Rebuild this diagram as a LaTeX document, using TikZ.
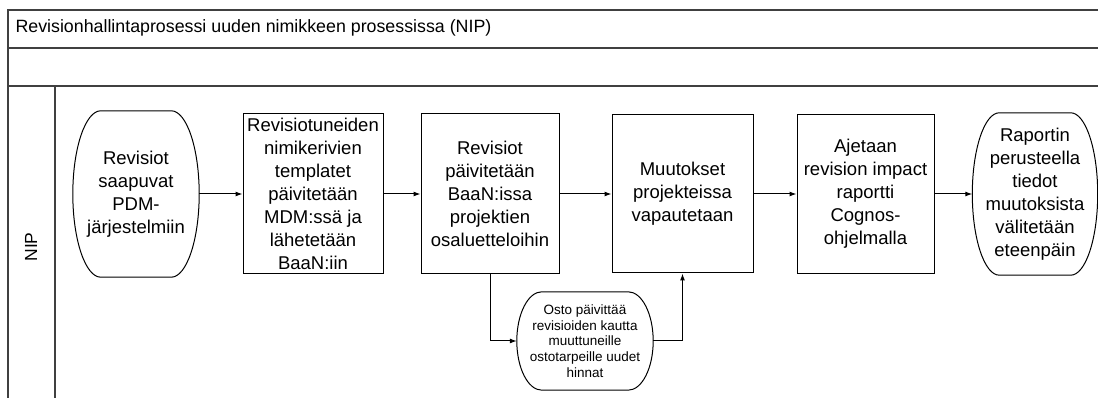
\documentclass[tikz,border=0pt]{standalone}
\usepackage{fontspec}
\setmainfont{Liberation Sans}
\usetikzlibrary{arrows.meta,calc}

% Outline of a terminator: flat top and bottom joined by quarter-ellipse
% corners, so the sides bulge out like a barrel (#2 = width of a corner)
\newcommand\termoutline[2]{%
  \draw[shapeline] let \p1=(#1.north east), \p2=(#1.south west), \p3=(#1.center) in
   ({\x2+#2},\y1) -- ({\x1-#2},\y1)
   .. controls ({\x1-0.45*#2},\y1) and (\x1,{\y3+0.55*(\y1-\y3)}) .. (\x1,\y3)
   .. controls (\x1,{\y3-0.55*(\y1-\y3)}) and ({\x1-0.45*#2},\y2) .. ({\x1-#2},\y2)
   -- ({\x2+#2},\y2)
   .. controls ({\x2+0.45*#2},\y2) and (\x2,{\y3-0.55*(\y1-\y3)}) .. (\x2,\y3)
   .. controls (\x2,{\y3+0.55*(\y1-\y3)}) and ({\x2+0.45*#2},\y1) .. cycle;}

\tikzset{
  frameline/.style={line width=1.3pt, draw=black!75},
  shapeline/.style={line width=1pt, draw=black},
  proc/.style={shapeline, rectangle, inner sep=0pt, align=center,
    font=\fontsize{18.5}{23}\selectfont},
  term/.style={rectangle, inner sep=0pt, align=center,
    font=\fontsize{18.5}{23}\selectfont},
  smallterm/.style={rectangle, inner sep=0pt, align=center,
    font=\fontsize{13.5}{15.7}\selectfont},
  flow/.style={line width=1pt, -{Latex[length=7pt,width=5pt]}},
}

\begin{document}
\begin{tikzpicture}[x=1pt,y=1pt]
\useasboundingbox (0,0) rectangle (1098,398);

% pool frame and lane
\draw[frameline] (1100,388) -- (8,388) -- (8,-2);
\draw[frameline] (8,350) -- (1100,350);
\draw[frameline] (8,312) -- (1100,312);
\draw[frameline] (55,312) -- (55,-2);

\node[anchor=base west, font=\fontsize{17.8}{21}\selectfont] (title) at (12,365)
  {Revisionhallintaprosessi uuden nimikkeen prosessissa (NIP)};
\node[rotate=90, font=\fontsize{17.5}{20}\selectfont] (lane) at (31,151) {NIP};

% process steps
\node[term, minimum width=126pt, minimum height=166pt] (start) at (136,204)
  {Revisiot\\saapuvat\\PDM-\\järjestelmiin};
\termoutline{start}{28pt}

\node[proc, minimum width=140pt, minimum height=160pt] (tmpl) at (313,204)
  {Revisiotuneiden\\nimikerivien\\templatet\\päivitetään\\MDM:ssä ja\\lähetetään\\BaaN:iin};

\node[proc, minimum width=138pt, minimum height=160pt] (baan) at (490,204)
  {Revisiot\\päivitetään\\BaaN:issa\\projektien\\osaluetteloihin};

\node[proc, minimum width=141pt, minimum height=158pt] (rel) at (682.5,204)
  {Muutokset\\projekteissa\\vapautetaan};

\node[proc, minimum width=137pt, minimum height=159pt] (rep) at (865.5,204)
  {Ajetaan\\revision impact\\raportti\\Cognos-\\ohjelmalla};

\node[term, minimum width=125pt, minimum height=162pt] (end) at (1035,204)
  {Raportin\\perusteella\\tiedot\\muutoksista\\välitetään\\eteenpäin};
\termoutline{end}{27pt}

\node[smallterm, minimum width=136pt, minimum height=98pt] (osto) at (585,57)
  {Osto päivittää\\revisioiden kautta\\muuttuneille\\ostotarpeille uudet\\hinnat};
\termoutline{osto}{25pt}

% connectors
\draw[flow] (start) -- (tmpl);
\draw[flow] (tmpl) -- (baan);
\draw[flow] (baan) -- (rel);
\draw[flow] (rel) -- (rep);
\draw[flow] (rep) -- (end);
\draw[flow] (baan.south) |- (osto.west);
\draw[flow] (osto.east) -| (rel.south);
\end{tikzpicture}
\end{document}
